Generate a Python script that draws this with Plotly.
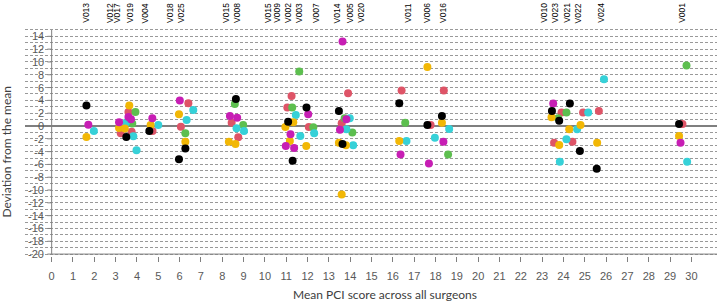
import plotly.graph_objects as go

# ---- data ----
black_x = [1.63, 3.5, 4.58, 6.27, 5.97, 8.64, 11.95, 11.09, 11.3, 13.47, 13.64, 16.3, 18.3, 17.62, 24.3, 23.46, 23.8, 24.77, 25.56, 29.42]
black_y = [3.2, -1.7, -0.8, -3.5, -5.2, 4.23, 2.9, 0.67, -5.44, 2.35, -2.8, 3.55, 1.57, 0.16, 3.5, 2.35, 0.83, -3.92, -6.68, 0.31]

magenta_x = [1.72, 3.6, 3.72, 3.16, 4.72, 6.01, 8.36, 8.7, 12.03, 11.2, 10.98, 11.37, 13.64, 13.82, 13.52, 18.37, 16.36, 17.69, 23.52, 29.49]
magenta_y = [0.2, 1.4, 1.05, 0.6, 1.2, 3.97, 1.57, 1.3, 1.83, -1.3, -3.13, -3.45, 13.2, 1.05, -0.6, -2.45, -4.44, -5.85, 3.5, -2.6]

yellow_x = [1.63, 3.64, 3.16, 3.43, 4.64, 5.97, 6.27, 8.31, 8.62, 11.33, 10.96, 11.17, 11.94, 13.47, 13.8, 13.6, 17.62, 18.3, 16.3, 23.44, 24.8, 24.27, 23.8, 25.58, 29.42]
yellow_y = [-1.7, 3.2, -0.3, -0.4, 0.15, 1.83, -2.45, -2.45, -2.8, 0.58, -0.16, -2.35, -3.13, -2.6, -3.0, -10.7, 9.2, 0.52, -2.35, 1.36, 0.16, -0.52, -2.98, -2.6, -1.57]

cyan_x = [1.98, 3.48, 3.83, 3.98, 5.0, 6.64, 6.33, 8.67, 9.02, 11.45, 12.31, 11.66, 13.98, 13.82, 14.14, 18.64, 17.97, 16.64, 25.16, 24.64, 24.14, 23.83, 25.9, 29.8]
cyan_y = [-0.8, 0.5, -1.6, -3.8, 0.15, 2.5, 0.94, -0.36, -0.78, 1.7, -1.15, -1.57, 1.2, -0.52, -3.0, -0.47, -1.83, -2.35, 2.1, -0.52, -2.08, -5.6, 7.3, -5.6]

green_x = [3.93, 3.78, 6.27, 8.59, 8.98, 11.61, 11.28, 12.27, 13.74, 14.1, 16.58, 18.59, 24.14, 23.75, 29.77]
green_y = [2.2, 0.4, -1.15, 3.45, 0.16, 8.5, 2.87, -0.2, 1.2, -1.0, 0.52, -4.44, 2.1, 1.2, 9.45]

salmon_x = [3.6, 3.24, 3.75, 4.73, 6.41, 6.06, 8.44, 8.75, 11.25, 11.05, 12.06, 13.9, 13.6, 16.41, 18.39, 17.77, 23.91, 24.92, 25.66, 24.42, 23.56, 29.58]
salmon_y = [2.2, -1.15, -0.9, -0.8, 3.55, -0.1, 0.52, -1.77, 4.7, 2.9, -0.16, 5.1, 0.42, 5.53, 5.53, 0.16, 2.1, 2.1, 2.35, -2.45, -2.6, 0.31]

surgeon_labels = ["V013", "V012", "V017", "V019", "V004", "V018", "V025", "V015", "V008",
                  "V015", "V009", "V002", "V003", "V007", "V014", "V005", "V020",
                  "V011", "V006", "V016", "V010", "V023", "V021", "V022", "V024", "V001"]
surgeon_x = [1.6, 2.74, 3.07, 3.67, 4.4, 5.55, 6.07, 8.17, 8.69,
             10.15, 10.56, 11.08, 11.6, 12.4, 13.4, 14.0, 14.5,
             16.7, 17.6, 18.35, 23.08, 23.6, 24.16, 24.7, 25.75, 29.55]

x_ticks = list(range(0, 31))
y_ticks = list(range(-20, 15, 2))

series = [
    (salmon_x, salmon_y, "#DE5467"),
    (green_x, green_y, "#5DBF4F"),
    (cyan_x, cyan_y, "#36D1D8"),
    (yellow_x, yellow_y, "#F2B705"),
    (magenta_x, magenta_y, "#C71EB4"),
    (black_x, black_y, "#000000"),
]

fig = go.Figure()
for xs, ys, col in series:
    fig.add_trace(go.Scatter(x=xs, y=ys, mode="markers",
                             marker=dict(size=8, color=col, line=dict(width=0)),
                             hoverinfo="skip"))

X_MIN, X_MAX = -1.25, 31.2
Y_MIN, Y_MAX = -20, 15
axis_col = "#7f7f7f"

shapes = [
    dict(type="line", xref="x", yref="y", x0=0, x1=X_MAX, y0=Y_MIN, y1=Y_MIN,
         line=dict(color=axis_col, width=1)),
    dict(type="line", xref="x", yref="y", x0=0, x1=0, y0=Y_MIN, y1=Y_MAX,
         line=dict(color=axis_col, width=1)),
]
for v in y_ticks:
    shapes.append(dict(type="line", xref="x", yref="y", x0=-0.2, x1=0, y0=v, y1=v,
                       line=dict(color=axis_col, width=1)))

annotations = []
for v in y_ticks:
    annotations.append(dict(x=0, y=v, xref="x", yref="y", text=str(v), showarrow=False,
                            xanchor="right", yanchor="middle", xshift=-6,
                            font=dict(family="Liberation Sans", size=11, color="#595959")))
for name, xv in zip(surgeon_labels, surgeon_x):
    annotations.append(dict(x=xv, y=1, xref="x", yref="paper", text=name, showarrow=False,
                            textangle=-90, xanchor="center", yanchor="middle", yshift=15,
                            font=dict(family="Liberation Sans", size=8.5, color="#000000")))
annotations.append(dict(x=0.52, y=0, xref="paper", yref="paper",
                        text="Mean PCI score across all surgeons", showarrow=False,
                        xanchor="center", yanchor="middle", yshift=-38,
                        font=dict(family="Lato", size=12, color="#404040")))
annotations.append(dict(x=0, y=0.458, xref="paper", yref="paper",
                        text="Deviation from the mean", showarrow=False, textangle=-90,
                        xanchor="center", yanchor="middle", xshift=-18,
                        font=dict(family="Lato", size=12, color="#404040")))

fig.update_layout(
    width=720, height=301,
    margin=dict(l=25, r=3, t=28, b=45),
    plot_bgcolor="white", paper_bgcolor="white",
    showlegend=False,
    shapes=shapes, annotations=annotations,
    xaxis=dict(range=[X_MIN, X_MAX], tickmode="array", tickvals=x_ticks,
               ticks="outside", ticklen=5, tickcolor=axis_col, showgrid=False,
               zeroline=False, showline=False, ticklabelstandoff=5,
               tickfont=dict(family="Liberation Sans", size=11, color="#595959")),
    yaxis=dict(range=[Y_MIN - 0.3, Y_MAX + 0.3], tickmode="linear", tick0=-20, dtick=1,
               showgrid=True, gridcolor="#999999", griddash="3px,2px", gridwidth=1,
               showticklabels=False, ticks="", zeroline=True, zerolinecolor=axis_col,
               zerolinewidth=1.5, showline=False),
)

fig.write_html("out.html", config={"displayModeBar": False},
               post_script="document.body.style.margin='0';document.body.style.overflow='hidden';")
